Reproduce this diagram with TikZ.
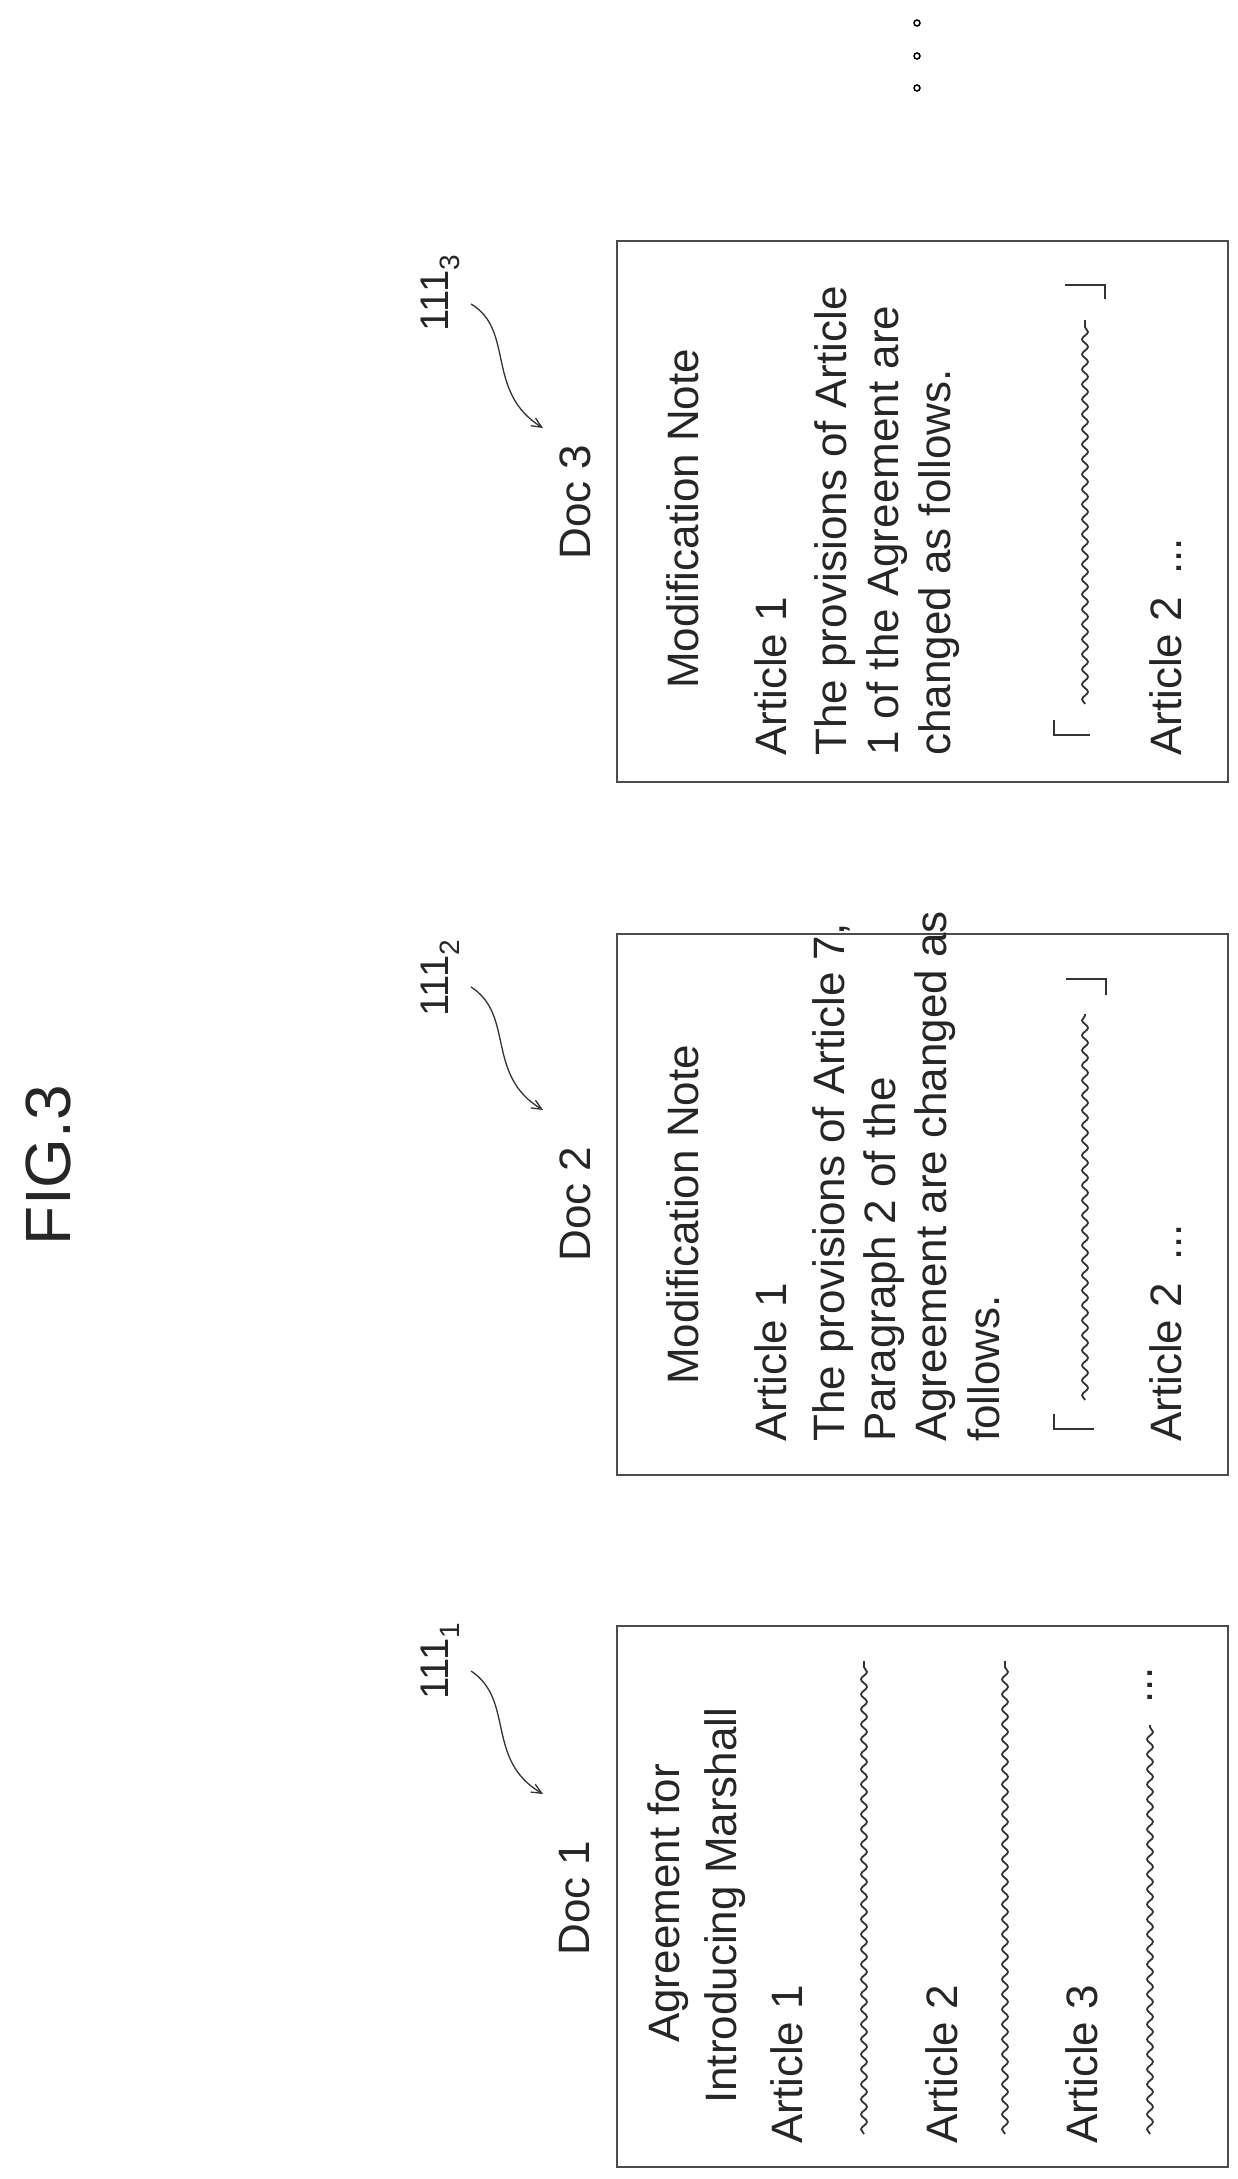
\documentclass[tikz,border=0pt]{standalone}
\usepackage{fontspec}
\setmainfont{Liberation Sans}
\usetikzlibrary{decorations.pathmorphing,arrows.meta}
\begin{document}
\begin{tikzpicture}[x=1pt,y=-1pt,
  txt/.style={rotate=90,anchor=west,inner sep=0pt,font=\fontsize{44}{50}\selectfont,text=black!85},
  ctxt/.style={rotate=90,anchor=center,inner sep=0pt,font=\fontsize{44}{50}\selectfont,text=black!85},
  doc/.style={draw=black!70,line width=2pt,minimum width=611pt,minimum height=541pt,inner sep=0pt},
  wave/.style={draw=black!80,line width=1.8pt,decorate,decoration={snake,amplitude=3pt,segment length=15pt}},
  brk/.style={draw=black!80,line width=1.6pt},
  lead/.style={draw=black!80,line width=1.3pt,-{Straight Barb[length=10pt,width=9pt]}},
  refl/.style={rotate=90,anchor=center,inner sep=0pt,font=\fontsize{40}{44}\selectfont,text=black!85}]
\useasboundingbox (0,0) rectangle (1238,2179);
\node[rotate=90,inner sep=0pt,font=\fontsize{64}{70}\selectfont,text=black!85] (fig) at (48,1165) {FIG.3};
% dots
\foreach \yy/\n in {23/a,56/b,88/c} \draw[line width=1.5pt] (917,\yy) circle (3pt) coordinate (dot\n);
% ---------- Doc 1
\node[doc] (box1) at (922.5,1896) {};
\node[ctxt] (lab1) at (575,1898) {Doc 1};
\node[refl] (r1) at (440,1661) {111\textsubscript{1}};
\coordinate (e1) at (543,1794);
\draw[lead] (471,1671) .. controls (515,1700) and (485,1760) .. (e1);
\node[txt] (t1a) at (668,2043) {Agreement for};
\node[txt] (t1b) at (725,2104) {Introducing Marshall};
\node[txt] (a11) at (787,2144) {Article 1};
\coordinate (w1s) at (864,2134); \coordinate (w1e) at (864,1661);
\draw[wave] (w1s) -- (w1e);
\node[txt] (a12) at (942,2144) {Article 2};
\coordinate (w2s) at (1005,2134); \coordinate (w2e) at (1005,1661);
\draw[wave] (w2s) -- (w2e);
\node[txt] (a13) at (1082,2144) {Article 3};
\coordinate (w3s) at (1150,2134); \coordinate (w3e) at (1150,1725);
\draw[wave] (w3s) -- (w3e);
\node[txt] (d13) at (1150,1704) {...};
% ---------- Doc 2
\node[doc] (box2) at (922.5,1204.5) {};
\node[ctxt] (lab2) at (575,1204) {Doc 2};
\node[refl] (r2) at (440,978) {111\textsubscript{2}};
\coordinate (e2) at (543,1110);
\draw[lead] (471,987) .. controls (515,1015) and (485,1075) .. (e2);
\node[txt] (m2) at (683,1385) {Modification Note};
\node[txt] (a21) at (771,1442) {Article 1};
\node[txt] (p21) at (833,1442) {The provisions of Article 7,};
\node[txt] (p22) at (884,1442) {Paragraph 2 of the};
\node[txt] (p23) at (935,1442) {Agreement are changed as};
\node[txt] (p24) at (984,1442) {follows.};
\draw[brk] (1094,1429) -- (1054,1429) -- (1054,1414);
\draw[brk] (1066,979) -- (1106,979) -- (1106,995);
\coordinate (w4s) at (1085,1400); \coordinate (w4e) at (1085,1014);
\draw[wave] (w4s) -- (w4e);
\node[txt] (a22) at (1166,1442) {Article 2\enspace ...};
% ---------- Doc 3
\node[doc] (box3) at (922.5,511.5) {};
\node[ctxt] (lab3) at (575,502) {Doc 3};
\node[refl] (r3) at (440,293) {111\textsubscript{3}};
\coordinate (e3) at (543,428);
\draw[lead] (471,304) .. controls (515,330) and (485,392) .. (e3);
\node[txt] (m3) at (683,689) {Modification Note};
\node[txt] (a31) at (771,756) {Article 1};
\node[txt] (p31) at (835,756) {The provisions of Article};
\node[txt] (p32) at (887,756) {1 of the Agreement are};
\node[txt] (p33) at (939,756) {changed as follows.};
\draw[brk] (1090,735) -- (1054,735) -- (1054,720);
\draw[brk] (1065,285) -- (1105,285) -- (1105,299);
\coordinate (w5s) at (1085,704); \coordinate (w5e) at (1085,320);
\draw[wave] (w5s) -- (w5e);
\node[txt] (a32) at (1166,756) {Article 2\enspace ...};
\end{tikzpicture}
\end{document}
